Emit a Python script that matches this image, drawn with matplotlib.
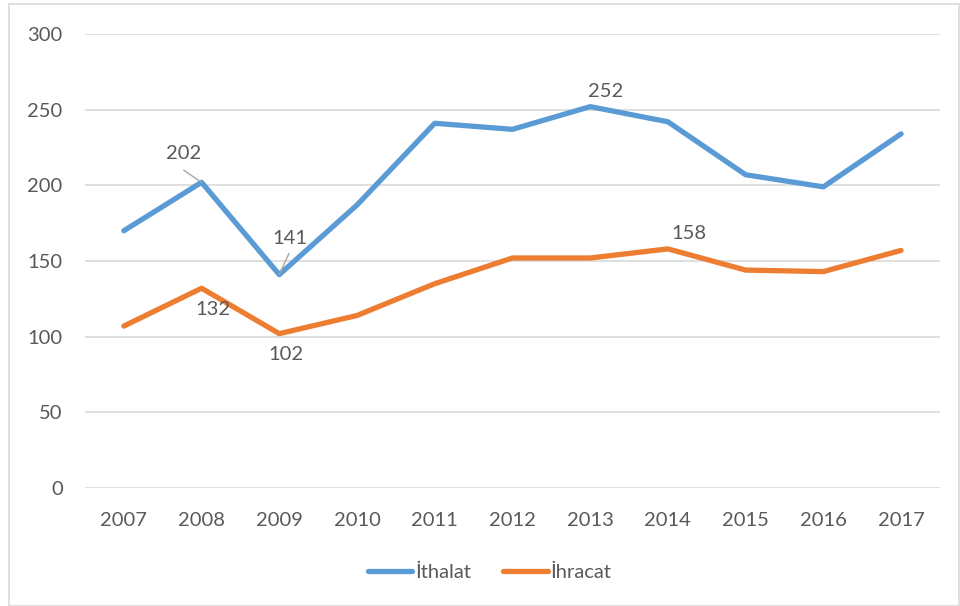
import matplotlib.pyplot as plt
import matplotlib.patches as mpatches

plt.rcParams['font.family'] = ['Lato', 'DejaVu Sans']

# data
years = ['2007', '2008', '2009', '2010', '2011', '2012', '2013', '2014', '2015', '2016', '2017']
ithalat = [170, 202, 141, 187, 241, 237, 252, 242, 207, 199, 234]
ihracat = [107, 132, 102, 114, 135, 152, 152, 158, 144, 143, 157]

blue = '#5B9BD5'
orange = '#ED7D31'
txt = '#595959'

fig = plt.figure(figsize=(9.6, 6.06), dpi=100)
ax = fig.add_axes([0.0885, 0.1947, 0.8906, 0.7492])

x = list(range(len(years)))
ax.plot(x, ithalat, color=blue, lw=3.8, label='İthalat', solid_capstyle='round', zorder=3)
ax.plot(x, ihracat, color=orange, lw=3.8, label='İhracat', solid_capstyle='round', zorder=3)

ax.set_xlim(-0.5, len(years) - 0.5)
ax.set_ylim(0, 300)
ax.set_yticks(range(0, 301, 50))
ax.set_xticks(x)
ax.set_xticklabels(years)
ax.grid(axis='y', color='#D9D9D9', lw=1.2)
ax.set_axisbelow(True)
for s in ax.spines.values():
    s.set_visible(False)
ax.tick_params(length=0, labelsize=14.5, colors=txt)
ax.tick_params(axis='x', pad=17)
ax.tick_params(axis='y', pad=16)

# data labels
lab = dict(fontsize=14.5, color=txt, ha='center', va='center')
leader = dict(arrowstyle='-', color='#A6A6A6', lw=1, shrinkA=0, shrinkB=0)
ax.text(0.77, 221, str(ithalat[1]), **lab)
ax.annotate('', (1, ithalat[1]), xytext=(0.77, 210), arrowprops=leader, zorder=4)
ax.text(2.13, 165, str(ithalat[2]), **lab)
ax.annotate('', (2, ithalat[2]), xytext=(2.125, 155), arrowprops=leader, zorder=4)
ax.text(6.2, 262, str(ithalat[6]), **lab)
ax.text(1.14, 118, str(ihracat[1]), **lab)
ax.text(2.08, 88, str(ihracat[2]), **lab)
ax.text(7.27, 168, str(ihracat[7]), **lab)

leg = fig.legend(loc='center', bbox_to_anchor=(0.51, 0.055), ncol=2, frameon=False,
                 fontsize=14.5, handlelength=2.2, handletextpad=0.15, columnspacing=1.6)
for t in leg.get_texts():
    t.set_color(txt)

# light outer border
fig.patches.append(mpatches.Rectangle((0.009, 0.0), 0.99, 0.993, transform=fig.transFigure,
                                      fill=False, edgecolor='#D9D9D9', lw=1.2))

fig.savefig('out.png', dpi=100)
